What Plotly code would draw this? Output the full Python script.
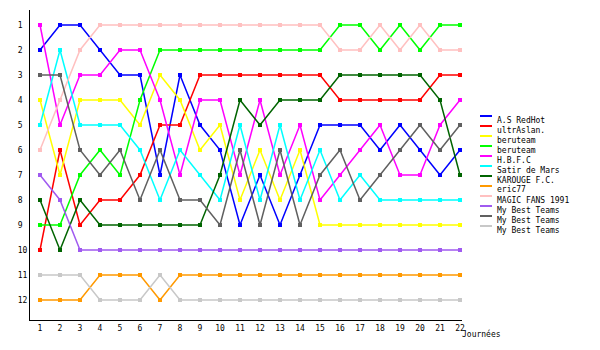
import plotly.graph_objects as go

journees = list(range(1, 23))

team_names = ["A.S RedHot", "ultrAslan.", "beruteam", "beruteam", "H.B.F.C",
              "Satir de Mars", "KAROUGE F.C.", "eric77", "MAGIC FANS 1991",
              "My Best Teams", "My Best Teams", "My Best Teams"]
team_colors = ["#0000FF", "#FF0000", "#FFFF00", "#00FF00", "#FF00FF",
               "#00FFFF", "#006400", "#FF9900", "#FFC0C0",
               "#A05AF0", "#606060", "#C8C8C8"]

as_redhot   = [2, 1, 1, 2, 3, 3, 7, 3, 5, 6, 9, 7, 9, 7, 5, 5, 5, 6, 5, 6, 7, 6]
ultraslan   = [10, 6, 9, 8, 8, 7, 5, 5, 3, 3, 3, 3, 3, 3, 3, 4, 4, 4, 4, 4, 3, 3]
beruteam_y  = [4, 7, 4, 4, 4, 5, 3, 4, 6, 5, 8, 6, 8, 6, 9, 9, 9, 9, 9, 9, 9, 9]
beruteam_g  = [9, 9, 7, 6, 7, 4, 2, 2, 2, 2, 2, 2, 2, 2, 2, 1, 1, 2, 1, 2, 1, 1]
hbfc        = [1, 5, 3, 3, 2, 2, 4, 7, 4, 4, 7, 4, 7, 5, 8, 7, 6, 5, 7, 7, 5, 4]
satir       = [5, 2, 5, 5, 5, 6, 8, 6, 7, 8, 5, 8, 5, 8, 6, 8, 7, 8, 8, 8, 8, 8]
karouge     = [8, 10, 8, 9, 9, 9, 9, 9, 9, 7, 4, 5, 4, 4, 4, 3, 3, 3, 3, 3, 4, 7]
eric77      = [12, 12, 12, 11, 11, 11, 12, 11, 11, 11, 11, 11, 11, 11, 11, 11, 11, 11, 11, 11, 11, 11]
magic_fans  = [6, 4, 2, 1, 1, 1, 1, 1, 1, 1, 1, 1, 1, 1, 1, 2, 2, 1, 2, 1, 2, 2]
mbt_purple  = [7, 8, 10, 10, 10, 10, 10, 10, 10, 10, 10, 10, 10, 10, 10, 10, 10, 10, 10, 10, 10, 10]
mbt_dgray   = [3, 3, 6, 7, 6, 8, 6, 8, 8, 9, 6, 9, 6, 9, 7, 6, 8, 7, 6, 5, 6, 5]
mbt_lgray   = [11, 11, 11, 12, 12, 12, 11, 12, 12, 12, 12, 12, 12, 12, 12, 12, 12, 12, 12, 12, 12, 12]

series = [as_redhot, ultraslan, beruteam_y, beruteam_g, hbfc, satir, karouge,
          eric77, magic_fans, mbt_purple, mbt_dgray, mbt_lgray]

rank_values = list(range(1, 13))
rank_labels = [str(r) if r >= 10 else str(r) + "\u00a0" for r in rank_values]
x_title = "Journées"

FONT = "DejaVu Sans Mono"
W, H = 600, 350
ML, MR, MT, MB = 30, 138, 10, 30
PW, PH = W - ML - MR, H - MT - MB

fig = go.Figure()
for name, color, vals in zip(team_names, team_colors, series):
    fig.add_trace(go.Scatter(
        x=journees, y=vals, mode="lines+markers", name=name,
        line=dict(color=color, width=1.5),
        marker=dict(color=color, size=4, symbol="square"),
        showlegend=False,
    ))

def px2paper(px, py):
    return (px - ML) / PW, (H - MB - py) / PH

shapes = []
annotations = []
for i, (name, color) in enumerate(zip(team_names, team_colors)):
    x0, y0 = px2paper(480, 116 + 10 * i)
    x1, _ = px2paper(492, 116 + 10 * i)
    shapes.append(dict(type="line", xref="paper", yref="paper",
                       x0=x0, x1=x1, y0=y0, y1=y0,
                       line=dict(color=color, width=2)))
    tx, ty = px2paper(495, 120 + 10 * i)
    annotations.append(dict(text=name, xref="paper", yref="paper", x=tx, y=ty,
                            xanchor="left", yanchor="middle", showarrow=False,
                            font=dict(family=FONT, size=8, color="black")))

jx, jy = px2paper(460, 334)
annotations.append(dict(text=x_title, xref="paper", yref="paper", x=jx, y=jy,
                        xanchor="left", yanchor="middle", showarrow=False,
                        font=dict(family=FONT, size=8, color="black")))

fig.update_layout(
    width=W, height=H,
    margin=dict(l=ML, r=MR, t=MT, b=MB, pad=0),
    paper_bgcolor="white", plot_bgcolor="white",
    font=dict(family=FONT, size=8, color="black"),
    shapes=shapes, annotations=annotations,
    xaxis=dict(range=[0.5, 22.1], tickmode="array", tickvals=journees,
               ticktext=[str(j) for j in journees], showgrid=False,
               zeroline=False, showline=True, linecolor="black", linewidth=1,
               ticks="", tickfont=dict(family=FONT, size=8)),
    yaxis=dict(range=[12.8, 0.4], tickmode="array", tickvals=rank_values,
               ticktext=rank_labels, showgrid=False, zeroline=False,
               showline=True, linecolor="black", linewidth=1, ticks="",
               tickfont=dict(family=FONT, size=8)),
    showlegend=False,
)

fig.write_html("out.html")
